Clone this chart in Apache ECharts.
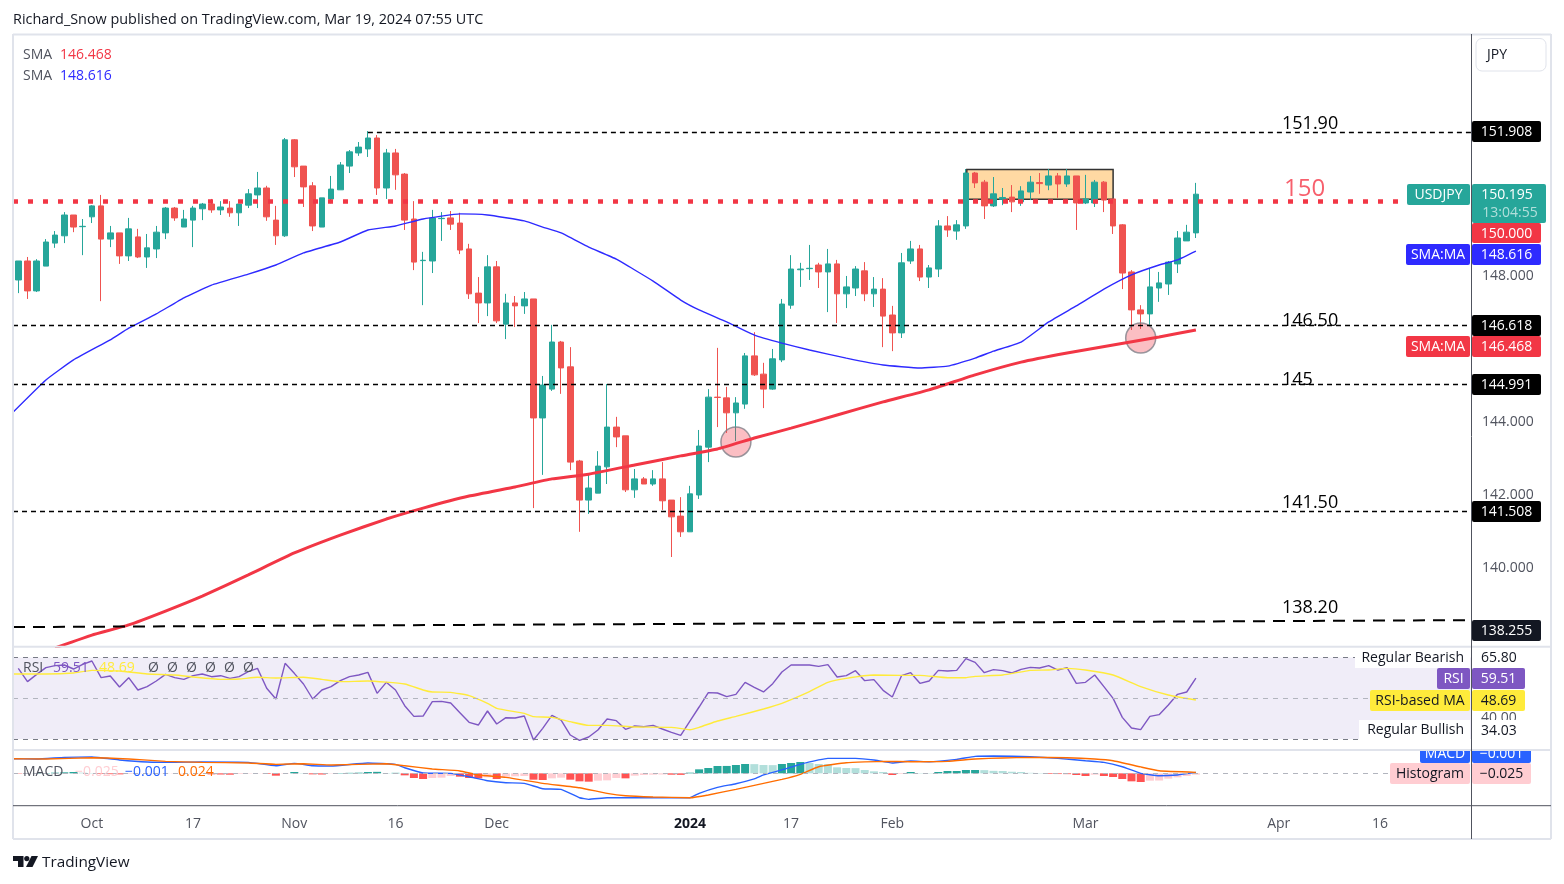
<!DOCTYPE html>
<html>
<head>
<meta charset="utf-8">
<title>USDJPY</title>
<script src="https://cdn.jsdelivr.net/npm/echarts@6/dist/echarts.min.js"></script>
<style>
  html, body { margin: 0; padding: 0; background: #fff; }
  #chart { width: 1564px; height: 884px; }
</style>
</head>
<body>
<div id="chart"></div>
<script>
// candles, one per trading day
var opens = [
  147.85,148.37,147.55,148.23,148.86,149.06,149.63,149.31,149.58,149.88,
  148.97,149.14,148.51,149.03,148.48,148.70,149.14,149.82,149.30,149.49,
  149.80,149.93,149.77,149.82,149.69,149.90,150.18,150.37,149.49,149.06,
  151.69,150.97,150.43,149.30,150.07,150.32,150.97,151.33,151.44,151.74,
  150.37,151.33,150.75,149.52,148.38,148.37,149.53,149.55,149.41,148.70,
  147.49,147.22,148.21,146.64,147.22,147.14,147.33,144.07,144.86,146.15,
  145.47,142.89,141.82,142.01,142.73,143.82,143.58,142.10,142.40,142.26,
  142.40,141.82,141.38,140.95,141.96,143.27,144.64,144.62,144.21,144.45,
  145.77,145.27,144.86,145.66,147.16,148.13,148.16,148.26,148.07,148.29,
  147.47,147.63,148.10,147.47,147.60,146.89,146.40,148.37,148.70,147.93,
  148.15,149.33,149.19,149.33,150.78,150.53,149.88,150.06,150.12,149.99,
  150.26,150.52,150.45,150.70,150.48,150.70,149.96,149.96,150.53,150.07,
  149.36,148.07,147.03,146.92,147.63,147.74,148.29,148.92,149.14];
var closes = [
  148.37,147.55,148.37,148.89,149.08,149.63,149.30,149.32,149.88,148.97,
  149.14,148.51,149.25,148.48,148.73,149.16,149.82,149.55,149.52,149.82,
  149.93,149.77,149.85,149.69,149.93,150.21,150.37,149.58,149.06,151.69,
  150.95,150.40,149.33,150.10,150.34,151.00,151.36,151.49,151.74,150.37,
  151.33,150.73,149.49,148.34,148.39,149.55,149.54,149.38,148.67,147.47,
  147.22,148.21,146.73,147.22,147.14,147.33,144.07,144.97,146.15,145.44,
  142.86,141.82,142.15,142.75,143.82,143.55,142.10,142.40,142.26,142.40,
  141.80,141.36,140.95,141.99,143.30,144.64,144.63,144.21,144.48,145.77,
  145.25,144.86,145.69,147.19,148.15,148.15,148.17,148.07,148.29,147.47,
  147.66,148.15,147.47,147.60,146.86,146.40,148.32,148.70,147.93,148.18,
  149.33,149.22,149.36,150.78,150.51,149.88,150.21,150.11,149.99,150.29,
  150.53,150.49,150.70,150.48,150.70,149.96,150.07,150.53,150.04,149.33,
  148.04,147.03,146.92,147.66,147.77,148.34,149.00,149.16,150.20];
var lows = [
  147.49,147.33,147.52,148.23,148.73,148.86,149.16,148.53,149.41,147.27,
  148.75,148.29,148.37,148.45,148.18,148.45,148.97,149.47,149.30,148.75,
  149.49,149.69,149.63,149.58,149.33,149.82,149.82,149.47,148.81,149.03,
  150.67,149.85,149.19,149.30,149.95,150.32,150.78,151.25,151.22,150.18,
  150.07,150.32,149.22,148.12,147.16,148.04,148.92,149.22,148.56,147.33,
  146.67,146.86,146.67,146.23,146.56,146.92,141.60,142.51,144.81,144.73,
  142.64,140.95,141.44,142.01,142.26,143.27,142.04,141.88,142.26,142.21,
  141.55,140.26,140.81,140.95,141.85,142.86,143.82,143.66,143.44,144.32,
  145.22,144.34,144.84,145.60,147.06,147.66,147.85,147.63,146.97,146.67,
  147.08,147.41,147.27,147.11,146.01,145.90,146.26,148.29,147.82,147.63,
  147.93,149.03,148.95,149.25,150.37,149.52,149.85,149.90,149.71,149.88,
  150.04,150.21,150.31,150.10,150.40,149.22,149.93,149.85,149.71,149.11,
  147.60,146.48,146.51,146.62,147.25,147.44,148.04,148.92,149.00];
var highs = [
  148.37,148.48,148.42,148.97,149.19,149.71,149.63,149.52,149.90,150.18,
  149.33,149.14,149.55,149.25,149.11,149.33,149.85,149.85,149.77,149.88,
  149.96,150.07,150.01,150.01,149.93,150.34,150.81,150.43,149.88,151.74,
  151.71,150.97,150.53,150.10,150.70,151.08,151.41,151.63,151.93,151.82,
  151.44,151.44,150.78,150.01,148.62,149.77,149.71,149.74,149.69,148.84,
  147.93,148.53,148.37,147.47,147.41,147.52,147.33,145.22,146.62,146.18,
  146.01,142.92,142.51,143.16,145.00,144.10,143.58,142.67,142.45,142.64,
  142.86,141.82,141.90,142.21,143.74,144.86,145.99,144.92,144.64,145.85,
  146.42,145.58,145.96,147.33,148.53,148.32,148.81,148.32,148.70,148.40,
  147.96,148.23,148.34,147.93,147.90,147.14,148.59,148.92,148.81,148.26,
  149.49,149.60,149.49,150.89,150.81,150.59,150.67,150.37,150.45,150.42,
  150.70,150.78,150.89,150.78,150.89,150.70,150.73,150.59,150.56,150.07,
  149.38,148.12,147.16,148.18,148.07,148.37,149.19,149.36,150.51];

// moving averages, read at these bars
var sma50Bars = [-1,3,6,10,12,15,18,21,25,28,31,35,38,41,44,48,51,55,57,59,62,65,69,72,74,77,80,83,86,90,94,98,101,104,106,109,112,115,118,121,124,126,128];
var sma50Values = [144.12,145.11,145.66,146.21,146.53,146.92,147.36,147.71,148.01,148.26,148.59,148.89,149.22,149.33,149.52,149.66,149.63,149.47,149.30,149.14,148.75,148.42,147.82,147.30,147.03,146.70,146.34,146.12,145.93,145.71,145.52,145.44,145.49,145.71,145.90,146.15,146.70,147.14,147.60,147.99,148.26,148.40,148.64];
var sma200Bars = [4,8,12,16,20,25,30,35,40,44,49,54,58,62,67,72,76,80,84,89,94,99,104,109,114,119,124,128];
var sma200Values = [137.77,138.12,138.40,138.78,139.19,139.77,140.37,140.86,141.30,141.60,141.93,142.18,142.40,142.53,142.78,143.03,143.22,143.52,143.79,144.15,144.51,144.84,145.25,145.60,145.85,146.07,146.29,146.48];

// RSI, one value per bar
var rsiValues = [
  61.57,56.38,59.23,61.83,62.61,62.87,61.31,63.13,64.43,57.93,
  58.58,54.30,57.93,53.13,54.43,56.64,59.23,57.93,57.28,58.71,
  59.36,58.32,58.71,57.67,58.32,60.27,61.57,53.78,49.62,63.52,
  59.62,55.47,49.62,53.13,54.43,56.77,58.32,58.97,60.01,51.83,
  56.12,53.13,47.02,42.86,42.99,48.58,48.71,48.06,44.29,40.52,
  39.48,44.94,39.87,42.34,42.21,42.99,33.63,38.18,43.25,41.43,
  35.58,33.50,34.80,37.53,41.82,41.17,37.79,39.09,38.83,39.35,
  37.92,36.62,35.45,41.04,46.50,52.09,51.96,50.53,51.44,56.12,
  54.17,52.35,55.60,60.14,62.87,62.87,62.87,62.35,63.00,58.19,
  58.71,60.66,56.77,57.16,53.00,50.40,58.71,59.88,55.73,56.64,
  60.79,60.53,60.79,65.34,63.91,59.88,61.05,60.66,59.75,61.18,
  61.96,61.70,62.61,60.92,61.83,55.73,56.12,58.97,54.43,49.88,
  42.47,38.31,37.66,42.86,43.51,47.28,51.44,52.35,57.80];
var rsiMaBars = [-1,3,6,8,11,14,17,19,22,24,26,28,31,33,35,38,42,44,45,47,49,51,52,55,56,58,60,62,64,67,71,73,74,76,78,81,83,86,88,90,93,96,98,101,103,104,107,110,112,114,116,119,122,125,128];
var rsiMaValues = [59.36,59.36,59.75,60.79,60.53,59.36,58.97,58.19,57.28,57.42,58.07,57.80,58.07,57.28,56.38,56.64,55.47,53.13,52.35,52.22,50.92,47.93,45.98,44.03,42.73,42.47,40.78,39.35,39.35,38.70,38.57,37.66,38.57,41.04,42.86,45.72,47.93,52.48,56.12,57.67,58.97,58.84,58.84,57.93,57.93,58.45,58.97,60.79,60.92,61.57,60.92,58.97,54.43,51.18,49.23];
var rsiBands = [65.80, 50, 34.03];

// MACD
var macdBars = [-1,2,5,8,11,14,17,20,25,28,30,32,34,38,41,42,44,47,49,51,53,55,57,59,61,62,64,65,69,73,74,76,78,80,81,83,85,87,88,91,93,95,97,99,102,104,106,110,113,116,118,120,122,124,126,128];
var macdValues = [0.73,0.72,0.80,0.82,0.67,0.57,0.55,0.57,0.55,0.38,0.50,0.38,0.37,0.52,0.45,0.28,0.02,0,-0.17,-0.37,-0.47,-0.50,-0.77,-0.80,-1.22,-1.30,-1.22,-1.22,-1.22,-1.22,-1.00,-0.70,-0.52,-0.28,-0.08,0.17,0.45,0.67,0.75,0.75,0.67,0.52,0.62,0.58,0.70,0.85,0.87,0.83,0.75,0.63,0.55,0.33,0,-0.12,-0.08,0.05];
var signalBars = [-1,3,8,12,16,20,25,28,31,34,40,42,45,48,50,53,57,61,64,66,69,73,75,78,83,85,87,90,94,97,101,104,107,110,114,117,119,122,124,128];
var signalValues = [0.73,0.72,0.78,0.72,0.60,0.55,0.52,0.45,0.48,0.42,0.48,0.38,0.22,0.12,-0.08,-0.20,-0.50,-0.72,-1.00,-1.12,-1.18,-1.22,-1.08,-0.80,-0.30,-0.05,0.33,0.53,0.60,0.58,0.60,0.72,0.77,0.80,0.78,0.72,0.63,0.32,0.13,0.05];
var histValues = [
  -0.017,-0.017,0.017,0.017,0.033,0.05,0.067,0.033,0.017,-0.033,
  -0.042,-0.05,-0.033,-0.017,-0.017,-0.017,-0.015,-0.015,-0.015,-0.015,
  -0.015,-0.05,-0.058,-0.067,-0.033,-0.017,-0.008,-0.033,-0.117,-0.017,
  0.067,0.017,-0.05,-0.058,-0.017,0.017,0.025,0.033,0.067,0.075,
  0.017,0.025,-0.10,-0.233,-0.283,-0.233,-0.217,-0.133,-0.167,-0.233,
  -0.25,-0.20,-0.283,-0.167,-0.15,-0.133,-0.317,-0.333,-0.25,-0.217,
  -0.317,-0.40,-0.417,-0.367,-0.35,-0.233,-0.25,-0.117,-0.083,-0.067,
  -0.058,-0.067,-0.075,0.033,0.20,0.267,0.367,0.37,0.417,0.467,
  0.46,0.417,0.41,0.467,0.517,0.567,0.517,0.467,0.46,0.30,
  0.267,0.26,0.167,0.10,0.067,-0.083,-0.033,0.067,0.017,0.015,
  0.067,0.117,0.118,0.167,0.168,0.16,0.125,0.117,0.08,0.067,
  0.025,0.017,-0.033,-0.035,-0.04,-0.083,-0.133,-0.067,-0.133,-0.183,
  -0.283,-0.40,-0.433,-0.367,-0.36,-0.267,-0.20,-0.133,-0.067];

// drawn levels
var dashedLevels = [146.618, 144.991, 141.508];
var topLevel = 151.908;
var topLevelStartBar = 38;
var roundLevel = 150;
var roundLevelEndBar = 150;
var slopedLevel = [138.34, 138.53];
var boxBars = [103.1, 119];
var boxPrices = [150.06, 150.88];
var circleBars = [78, 122];
var circlePrices = [143.41, 146.26];

// time axis
var tickBars = [8, 19, 30, 41, 52, 73, 84, 95, 116, 137, 148];
var tickLabels = ['Oct', '17', 'Nov', '16', 'Dec', '2024', '17', 'Feb', 'Mar', 'Apr', '16'];
var priceTicks = [140, 142, 144, 148];

var UP = '#26a69a', DOWN = '#ef5350', RED = '#f23645', BLUE = '#2e2aff';
var FONT = 'Open Sans';
var xMin = -0.576, xMax = 158.01;

function pairs(xs, ys) {
  return xs.map(function (x, i) { return [x, ys[i]]; });
}
function histColor(v, i) {
  var prev = i > 0 ? histValues[i - 1] : 0;
  if (v >= 0) return v >= prev ? UP : '#b2dfdb';
  return v < prev ? '#ff5252' : '#ffcdd2';
}

var candleData = opens.map(function (o, i) {
  return [i, o, closes[i], lows[i], highs[i]];
});

var levelLines = dashedLevels.map(function (p) {
  return [{ coord: [xMin, p] }, { coord: [xMax, p] }];
});
levelLines.push([{ coord: [topLevelStartBar, topLevel] }, { coord: [xMax, topLevel] }]);

function xAxisFor(index, labels) {
  return {
    type: 'value', gridIndex: index, min: xMin, max: xMax,
    axisLine: { show: false }, axisTick: { show: false }, splitLine: { show: false },
    axisLabel: labels ? {
      customValues: tickBars, margin: 11, fontFamily: FONT, fontSize: 14, color: '#50535e',
      formatter: function (v) {
        var t = tickLabels[tickBars.indexOf(v)];
        return t === '2024' ? '{b|2024}' : t;
      },
      rich: { b: { fontFamily: FONT, fontSize: 14, fontWeight: 'bold', color: '#131722' } }
    } : { show: false }
  };
}

// tags, text and frame around the panes
var g = [];
function rect(x0, y0, x1, y1, fill, z, r, stroke) {
  g.push({ type: 'rect', z: z || 100, shape: { x: x0, y: y0, width: x1 - x0, height: y1 - y0, r: r || 0 },
    style: { fill: fill, stroke: stroke || null, lineWidth: stroke ? 1 : 0 }, silent: true });
}
function text(x, y, s, color, size, align, weight, z) {
  g.push({ type: 'text', z: z || 110, x: x, y: y + 1, silent: true,
    style: { text: s, fill: color, fontFamily: FONT, fontSize: size || 14, fontWeight: weight || 'normal',
      align: align || 'left', verticalAlign: 'middle' } });
}
function line(x0, y0, x1, y1, color, w, z) {
  g.push({ type: 'line', z: z || 90, silent: true, shape: { x1: x0, y1: y0, x2: x1, y2: y1 },
    style: { stroke: color, lineWidth: w || 1 } });
}
function tag(x0, x1, y0, y1, fill, s, color) {
  rect(x0, y0, x1, y1, fill, 100, 2);
  text((x0 + x1) / 2, (y0 + y1) / 2, s, color, 14, 'center');
}

// frame
line(13, 34.5, 1551, 34.5, '#e0e3eb', 2);
line(13, 839, 1551, 839, '#e0e3eb', 2);
line(13, 34, 13, 839, '#e0e3eb', 2);
line(1551, 34, 1551, 839, '#e0e3eb', 2);
line(13, 646.7, 1551, 646.7, '#e0e3eb', 2);
line(13, 750, 1551, 750, '#e0e3eb', 2);
line(13, 805.7, 1551, 805.7, '#50535e', 1);
line(1471.5, 34, 1471.5, 839, '#50535e', 1, 120);

// header and legends
text(13, 18.5, 'Richard_Snow published on TradingView.com, Mar 19, 2024 07:55 UTC', '#131722', 14.4);
text(23, 54, 'SMA', '#50535e', 14);
text(60, 54, '146.468', RED, 14);
text(23, 75, 'SMA', '#50535e', 14);
text(60, 75, '148.616', BLUE, 14);
text(23, 667, 'RSI', '#50535e', 14);
text(53, 667, '59.51', '#7e57c2', 14);
text(99, 667, '48.69', '#ffeb3b', 14);
[148, 167, 186, 205, 224, 243].forEach(function (x) { text(x, 667, '\u00d8', '#50535e', 14); });
text(23, 771, 'MACD', '#50535e', 14);
text(75, 771, '\u22120.025', '#ffcdd2', 14);
text(125, 771, '\u22120.001', '#2962ff', 14);
text(178, 771, '0.024', '#ff6d00', 14);

// level captions on the chart
text(1282, 122.5, '151.90', '#000', 18);
text(1284, 188, '150', '#f7606d', 24);
text(1282, 319.5, '146.50', '#000', 18);
text(1282, 378.5, '145', '#000', 18);
text(1282, 501.5, '141.50', '#000', 18);
text(1282, 606.5, '138.20', '#000', 18);

// logo
g.push({ type: 'polygon', z: 110, silent: true, shape: { points: [[13, 856], [23.5, 856], [23.5, 867], [18, 867], [18, 861], [13, 861]] }, style: { fill: '#131722' } });
g.push({ type: 'circle', z: 110, silent: true, shape: { cx: 26.8, cy: 858.6, r: 2.6 }, style: { fill: '#131722' } });
g.push({ type: 'polygon', z: 110, silent: true, shape: { points: [[31.5, 856], [38, 856], [32.5, 867], [26, 867]] }, style: { fill: '#131722' } });
text(42, 861.5, 'TradingView', '#131722', 15.3);

// price scale
rect(1476, 38.5, 1546, 71, '#fff', 100, 6, '#e0e3eb');
text(1487, 54, 'JPY', '#131722', 14);
tag(1472, 1541, 121, 142, '#000', '151.908', '#fff');
tag(1407, 1470, 184, 205, UP, 'USDJPY', '#fff');
rect(1472, 184, 1546, 223, UP, 100, 2);
text(1507, 194.5, '150.195', '#fff', 14, 'center');
text(1510, 212.5, '13:04:55', '#b2dfdb', 14, 'center');
tag(1472, 1541, 223, 243, RED, '150.000', '#fff');
tag(1406, 1470, 244, 265, BLUE, 'SMA:MA', '#fff');
tag(1472, 1541, 244, 265, BLUE, '148.616', '#fff');
tag(1472, 1541, 315, 336, '#000', '146.618', '#fff');
tag(1406, 1470, 336, 357, RED, 'SMA:MA', '#fff');
tag(1472, 1541, 336, 357, RED, '146.468', '#fff');
tag(1472, 1541, 374, 395, '#000', '144.991', '#fff');
tag(1472, 1541, 501, 522, '#000', '141.508', '#fff');
tag(1472, 1541, 620, 641, '#131722', '138.255', '#fff');

// RSI scale, 40.00 sits under the bullish tag
rect(1355, 649, 1470, 668, '#fff');
text(1464, 657, 'Regular Bearish', '#131722', 14, 'right');
text(1481, 657.5, '65.80', '#131722', 14);
tag(1437, 1470, 668, 689, '#7e57c2', 'RSI', '#fff');
tag(1472, 1525, 668, 689, '#7e57c2', '59.51', '#fff');
tag(1370, 1470, 690, 711, '#ffeb3b', 'RSI-based MA', '#131722');
tag(1472, 1525, 690, 711, '#ffeb3b', '48.69', '#131722');
text(1481, 717, '40.00', '#50535e', 14, 'left', 'normal', 95);
rect(1359, 720, 1470, 741, '#fff');
rect(1472, 720, 1525, 741, '#fff');
text(1464, 729.5, 'Regular Bullish', '#131722', 14, 'right');
text(1481, 730.5, '34.03', '#131722', 14);

// MACD scale, the top tag is cut by the pane edge
tag(1420, 1470, 743, 763, '#2962ff', 'MACD', '#fff');
tag(1472, 1531, 743, 763, '#2962ff', '\u22120.001', '#fff');
g.push({ type: 'rect', z: 115, silent: true, shape: { x: 1418, y: 741, width: 115, height: 8 }, style: { fill: '#fff' } });
line(1415, 750, 1535, 750, '#e0e3eb', 2, 116);
line(1471.5, 741, 1471.5, 751, '#50535e', 1, 120);
tag(1390, 1470, 763, 784, '#ffcdd2', 'Histogram', '#131722');
tag(1472, 1531, 763, 784, '#ffcdd2', '\u22120.025', '#131722');

var chart = echarts.init(document.getElementById('chart'));
chart.setOption({
  animation: false,
  backgroundColor: '#fff',
  graphic: g,
  grid: [
    { left: 13, width: 1459, top: 34, height: 612.5 },
    { left: 13, width: 1459, top: 647, height: 103 },
    { left: 13, width: 1459, top: 750, height: 56 }
  ],
  xAxis: [xAxisFor(0, false), xAxisFor(1, false), xAxisFor(2, true)],
  yAxis: [
    {
      type: 'value', gridIndex: 0, position: 'right', min: 137.808, max: 154.589,
      axisLine: { show: false }, axisTick: { show: false }, splitLine: { show: false },
      axisLabel: {
        customValues: priceTicks, margin: 10,
        formatter: function (v) { return '{a|' + v.toFixed(3) + '}'; },
        rich: { a: { fontFamily: FONT, fontSize: 14, color: '#50535e', padding: [3, 0, 0, 0] } }
      }
    },
    {
      type: 'value', gridIndex: 1, position: 'right', min: 29.74, max: 69.89,
      axisLine: { show: false }, axisTick: { show: false }, splitLine: { show: false },
      axisLabel: { show: false }
    },
    {
      type: 'value', gridIndex: 2, position: 'right', min: -1.633, max: 1.167,
      axisLine: { show: false }, axisTick: { show: false }, splitLine: { show: false },
      axisLabel: { show: false }
    }
  ],
  series: [
    // levels and box go first, under the candles
    {
      type: 'line', xAxisIndex: 0, yAxisIndex: 0, data: [], silent: true, symbol: 'none',
      markArea: {
        silent: true,
        itemStyle: { color: '#ffd9a3', borderColor: '#333', borderWidth: 1.5 },
        data: [[{ coord: [boxBars[0], boxPrices[1]] }, { coord: [boxBars[1], boxPrices[0]] }]]
      },
      markLine: {
        silent: true, symbol: 'none', label: { show: false },
        lineStyle: { color: '#000', type: [5, 4], width: 1.4 },
        data: levelLines.concat([
          [{ coord: [xMin, slopedLevel[0]], lineStyle: { color: '#000', type: [12, 8], width: 2 } },
           { coord: [xMax, slopedLevel[1]] }],
          [{ coord: [xMin, roundLevel], lineStyle: { color: RED, type: [5, 10], width: 4.5 } },
           { coord: [roundLevelEndBar, roundLevel] }]
        ])
      }
    },
    {
      type: 'candlestick', xAxisIndex: 0, yAxisIndex: 0, data: candleData,
      encode: { x: 0, y: [1, 2, 3, 4] }, barWidth: 6,
      itemStyle: { color: UP, color0: DOWN, borderColor: UP, borderColor0: DOWN, borderWidth: 1 }
    },
    {
      type: 'line', xAxisIndex: 0, yAxisIndex: 0, data: pairs(sma50Bars, sma50Values),
      smooth: 0.12, symbol: 'none', lineStyle: { color: BLUE, width: 1.4 }
    },
    {
      type: 'line', xAxisIndex: 0, yAxisIndex: 0, data: pairs(sma200Bars, sma200Values),
      smooth: 0.12, symbol: 'none', lineStyle: { color: RED, width: 3 }
    },
    {
      type: 'scatter', xAxisIndex: 0, yAxisIndex: 0, data: pairs(circleBars, circlePrices),
      symbolSize: 30, silent: true,
      itemStyle: { color: 'rgba(242,54,69,0.4)', borderColor: '#808088', borderWidth: 1.5 }
    },
    // RSI pane
    {
      type: 'line', xAxisIndex: 1, yAxisIndex: 1, data: [], silent: true, symbol: 'none',
      markArea: {
        silent: true, itemStyle: { color: '#f0edf8' },
        data: [[{ coord: [xMin, rsiBands[0]] }, { coord: [xMax, rsiBands[2]] }]]
      },
      markLine: {
        silent: true, symbol: 'none', label: { show: false },
        lineStyle: { color: '#787b86', type: [5, 5], width: 1 },
        data: [
          [{ coord: [xMin, rsiBands[0]] }, { coord: [xMax, rsiBands[0]] }],
          [{ coord: [xMin, rsiBands[1]], lineStyle: { color: '#b2b5be', type: [5, 5], width: 1 } }, { coord: [xMax, rsiBands[1]] }],
          [{ coord: [xMin, rsiBands[2]] }, { coord: [xMax, rsiBands[2]] }]
        ]
      }
    },
    {
      type: 'line', xAxisIndex: 1, yAxisIndex: 1, symbol: 'none',
      data: rsiValues.map(function (v, i) { return [i, v]; }),
      lineStyle: { color: '#7e57c2', width: 1.4 }
    },
    {
      type: 'line', xAxisIndex: 1, yAxisIndex: 1, symbol: 'none', smooth: 0.15,
      data: pairs(rsiMaBars, rsiMaValues),
      lineStyle: { color: '#ffeb3b', width: 1.4 }
    },
    // MACD pane
    {
      type: 'bar', xAxisIndex: 2, yAxisIndex: 2, barWidth: 8,
      data: histValues.map(function (v, i) {
        return { value: [i, v], itemStyle: { color: histColor(v, i) } };
      }),
      markLine: {
        silent: true, symbol: 'none', label: { show: false },
        lineStyle: { color: '#b2b5be', type: [5, 5], width: 1 },
        data: [[{ coord: [xMin, 0] }, { coord: [xMax, 0] }]]
      }
    },
    {
      type: 'line', xAxisIndex: 2, yAxisIndex: 2, symbol: 'none', smooth: 0.12,
      data: pairs(macdBars, macdValues),
      lineStyle: { color: '#2962ff', width: 1.4 }
    },
    {
      type: 'line', xAxisIndex: 2, yAxisIndex: 2, symbol: 'none', smooth: 0.12,
      data: pairs(signalBars, signalValues),
      lineStyle: { color: '#ff6d00', width: 1.4 }
    }
  ]
});
</script>
</body>
</html>
